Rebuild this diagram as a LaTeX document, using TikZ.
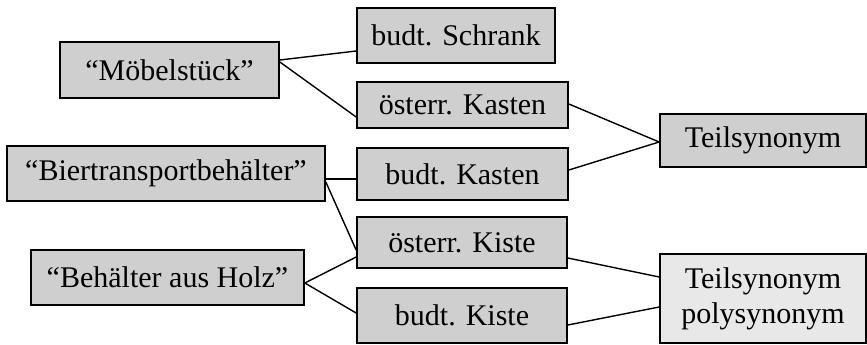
\documentclass[tikz,border=0pt]{standalone}
\usepackage{fontspec}
\setmainfont{Liberation Serif}
\begin{document}
\begin{tikzpicture}[x=1pt,y=-1pt,
  word/.style={draw=black, line width=1.7pt, fill=gray!38, inner sep=0pt,
    font=\fontsize{30}{35}\selectfont, align=center},
  link/.style={draw=black, line width=1.4pt}]
\useasboundingbox (0,0) rectangle (867,345);

% meanings
\node[word, minimum width=219pt, minimum height=56pt] (m)  at (169.5,70)   {“Möbelstück”};
\node[word, minimum width=318pt, minimum height=55pt] (bt) at (166,173.5)  {“Biertransportbehälter”};
\node[word, minimum width=273pt, minimum height=55pt] (bh) at (167.5,277.5){“Behälter aus Holz”};

% regional words
\node[word, minimum width=198pt, minimum height=55pt] (bs)  at (456,35.5)   {budt. Schrank};
\node[word, minimum width=211pt, minimum height=46pt] (ok)  at (462.5,105)  {österr. Kasten};
\node[word, minimum width=211pt, minimum height=52pt] (bk)  at (462.5,174)  {budt. Kasten};
\node[word, minimum width=210pt, minimum height=51pt] (oki) at (462,242.5)  {österr. Kiste};
\node[word, minimum width=210pt, minimum height=55pt] (bki) at (462,315.5)  {budt. Kiste};

% relation types
\node[word, minimum width=206pt, minimum height=53pt] (t)  at (763,140.5) {Teilsynonym};
\node[word, fill=gray!18, minimum width=206pt, minimum height=89pt] (tp) at (763,298.5) {Teilsynonym\\polysynonym};

% connectors
\draw[link] ([yshift=10pt]m.east)   -- ([yshift=-15.5pt]bs.west);
\draw[link] ([yshift=8pt]m.east)    -- ([yshift=-12pt]ok.west);
\draw[link] ([yshift=-5.5pt]bt.east) -- ([yshift=-5pt]bk.west);
\draw[link] ([yshift=-8.5pt]bt.east) -- ([yshift=-7.5pt]oki.west);
\draw[link] ([yshift=-5.5pt]bh.east) -- ([yshift=-14.5pt]oki.west);
\draw[link] ([yshift=-5.5pt]bh.east) -- ([yshift=2.5pt]bki.west);
\draw[link] ([yshift=1pt]ok.east)   -- ([yshift=-1.5pt]t.west);
\draw[link] ([yshift=4pt]bk.east)   -- ([yshift=-1.5pt]t.west);
\draw[link] ([yshift=-15.5pt]oki.east) -- ([yshift=21.5pt]tp.west);
\draw[link] ([yshift=-9.5pt]bki.east)  -- ([yshift=-8.5pt]tp.west);
\end{tikzpicture}
\end{document}
